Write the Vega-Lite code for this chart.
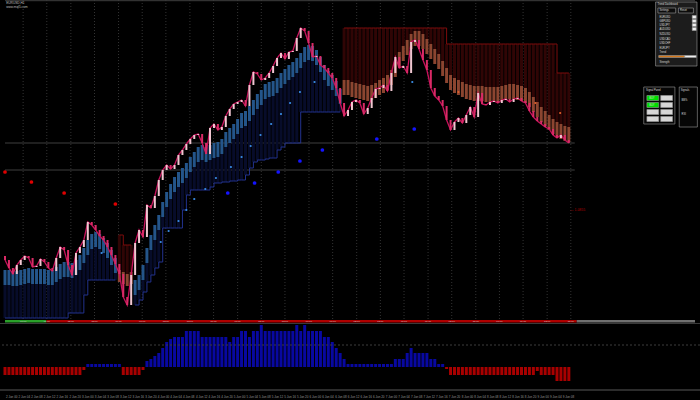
{
"$schema":"https://vega.github.io/schema/vega-lite/v6.json",
"background":"#000000",
"padding":0,
"spacing":0,
"config":{"view":{"stroke":null},"font":"Liberation Sans","concat":{"spacing":0}},
"datasets":{
"bars":[
{"i":0,"o":64,"c":60,"s":2,"a":50,"b":35,"p":"u","g":1,"h":-8},
{"i":1,"o":60,"c":52,"s":2,"a":50,"b":35,"p":"u","g":1,"h":-8},
{"i":2,"o":52,"c":46,"s":2,"a":49,"b":34,"p":"u","g":1,"h":-8},
{"i":3,"o":46,"c":55,"s":2,"a":49,"b":34,"p":"u","g":1,"h":-8},
{"i":4,"o":55,"c":60,"s":2,"a":50,"b":35,"p":"u","g":1,"h":-8},
{"i":5,"o":60,"c":64,"s":2,"a":51,"b":36,"p":"u","g":1,"h":-8},
{"i":6,"o":64,"c":62,"s":2,"a":52,"b":37,"p":"u","g":1,"h":-8},
{"i":7,"o":62,"c":53,"s":2,"a":51,"b":36,"p":"u","g":1,"h":-8},
{"i":8,"o":53,"c":54,"s":2,"a":51,"b":36,"p":"u","g":1,"h":-8},
{"i":9,"o":54,"c":61,"s":2,"a":51,"b":36,"p":"u","g":1,"h":-8},
{"i":10,"o":61,"c":58,"s":2,"a":51,"b":36,"p":"u","g":1,"h":-8},
{"i":11,"o":58,"c":52,"s":2,"a":50,"b":35,"p":"u","g":1,"h":-8},
{"i":12,"o":52,"c":49,"s":2,"a":50,"b":35,"p":"u","g":1,"h":-8},
{"i":13,"o":49,"c":62,"s":2,"a":53,"b":38,"p":"u","g":1,"h":-8},
{"i":14,"o":62,"c":73,"s":2,"a":56,"b":41,"p":"u","g":1,"h":-8},
{"i":15,"o":73,"c":70,"s":2,"a":58,"b":43,"p":"u","g":1,"h":-8},
{"i":16,"o":70,"c":55,"s":7,"a":58,"b":43,"p":"u","g":1,"h":-8},
{"i":17,"o":55,"c":45,"s":7,"a":57,"b":42,"p":"u","g":1,"h":-8},
{"i":18,"o":45,"c":67,"s":7,"a":60,"b":45,"p":"u","g":1,"h":-8},
{"i":19,"o":67,"c":73,"s":7,"a":65,"b":50,"p":"u","g":1,"h":-8},
{"i":20,"o":73,"c":80,"s":25,"a":72,"b":57,"p":"u","g":1,"h":-3},
{"i":21,"o":80,"c":98,"s":40,"a":80,"b":65,"p":"u","g":1,"h":3},
{"i":22,"o":98,"c":95,"s":40,"a":86,"b":71,"p":"u","g":1,"h":3},
{"i":23,"o":95,"c":90,"s":40,"a":88,"b":73,"p":"u","g":1,"h":3},
{"i":24,"o":90,"c":84,"s":40,"a":86,"b":71,"p":"u","g":1,"h":3},
{"i":25,"o":84,"c":80,"s":40,"a":82,"b":67,"p":"u","g":1,"h":3},
{"i":26,"o":80,"c":73,"s":40,"a":77,"b":62,"p":"u","g":1,"h":3},
{"i":27,"o":73,"c":65,"s":40,"a":70,"b":55,"p":"u","g":1,"h":3},
{"i":28,"o":65,"c":56,"s":40,"a":62,"b":47,"p":"u","g":1,"h":3},
{"i":29,"o":56,"c":46,"s":85,"a":38,"b":50,"p":"d","g":2,"h":3},
{"i":30,"o":46,"c":23,"s":75,"a":36,"b":48,"p":"d","g":2,"h":-8},
{"i":31,"o":23,"c":15,"s":75,"a":34,"b":46,"p":"d","g":2,"h":-8},
{"i":32,"o":15,"c":45,"s":75,"a":36,"b":48,"p":"d","g":2,"h":-8},
{"i":33,"o":45,"c":77,"s":15,"a":40,"b":25,"p":"u","g":3,"h":-8},
{"i":34,"o":77,"c":90,"s":20,"a":45,"b":30,"p":"u","g":3,"h":-8},
{"i":35,"o":90,"c":83,"s":28,"a":55,"b":40,"p":"u","g":3,"h":-3},
{"i":36,"o":83,"c":115,"s":38,"a":72,"b":57,"p":"u","g":3,"h":6},
{"i":37,"o":115,"c":112,"s":45,"a":85,"b":70,"p":"u","g":3,"h":8},
{"i":38,"o":112,"c":124,"s":52,"a":95,"b":80,"p":"u","g":3,"h":11},
{"i":39,"o":124,"c":140,"s":58,"a":105,"b":90,"p":"u","g":3,"h":14},
{"i":40,"o":140,"c":150,"s":92,"a":118,"b":103,"p":"u","g":3,"h":19},
{"i":41,"o":150,"c":155,"s":92,"a":128,"b":113,"p":"u","g":3,"h":25},
{"i":42,"o":155,"c":151,"s":92,"a":136,"b":121,"p":"u","g":3,"h":28},
{"i":43,"o":151,"c":155,"s":92,"a":143,"b":128,"p":"u","g":3,"h":30},
{"i":44,"o":155,"c":165,"s":92,"a":148,"b":133,"p":"u","g":3,"h":30},
{"i":45,"o":165,"c":170,"s":110,"a":152,"b":137,"p":"u","g":3,"h":30},
{"i":46,"o":170,"c":176,"s":125,"a":157,"b":142,"p":"u","g":3,"h":36},
{"i":47,"o":176,"c":181,"s":130,"a":163,"b":148,"p":"u","g":3,"h":36},
{"i":48,"o":181,"c":185,"s":130,"a":168,"b":153,"p":"u","g":3,"h":36},
{"i":49,"o":185,"c":186,"s":130,"a":173,"b":158,"p":"u","g":3,"h":36},
{"i":50,"o":186,"c":177,"s":130,"a":175,"b":160,"p":"u","g":3,"h":30},
{"i":51,"o":177,"c":166,"s":130,"a":173,"b":158,"p":"u","g":3,"h":30},
{"i":52,"o":166,"c":192,"s":133,"a":175,"b":160,"p":"u","g":3,"h":30},
{"i":53,"o":192,"c":196,"s":137,"a":177,"b":162,"p":"u","g":3,"h":30},
{"i":54,"o":196,"c":190,"s":137,"a":178,"b":163,"p":"u","g":3,"h":30},
{"i":55,"o":190,"c":193,"s":138,"a":181,"b":166,"p":"u","g":3,"h":30},
{"i":56,"o":193,"c":204,"s":138,"a":188,"b":173,"p":"u","g":3,"h":30},
{"i":57,"o":204,"c":211,"s":139,"a":192,"b":177,"p":"u","g":3,"h":25},
{"i":58,"o":211,"c":216,"s":139,"a":196,"b":181,"p":"u","g":3,"h":30},
{"i":59,"o":216,"c":218,"s":140,"a":201,"b":186,"p":"u","g":3,"h":30},
{"i":60,"o":218,"c":220,"s":140,"a":207,"b":192,"p":"u","g":3,"h":36},
{"i":61,"o":220,"c":214,"s":145,"a":209,"b":194,"p":"u","g":3,"h":36},
{"i":62,"o":214,"c":235,"s":152,"a":214,"b":199,"p":"u","g":3,"h":30},
{"i":63,"o":235,"c":248,"s":158,"a":220,"b":205,"p":"u","g":3,"h":36},
{"i":64,"o":248,"c":246,"s":160,"a":226,"b":211,"p":"u","g":3,"h":36},
{"i":65,"o":246,"c":240,"s":160,"a":230,"b":215,"p":"u","g":3,"h":42},
{"i":66,"o":240,"c":242,"s":161,"a":236,"b":221,"p":"u","g":3,"h":36},
{"i":67,"o":242,"c":247,"s":162,"a":238,"b":223,"p":"u","g":3,"h":36},
{"i":68,"o":247,"c":254,"s":162,"a":239,"b":224,"p":"u","g":3,"h":36},
{"i":69,"o":254,"c":262,"s":170,"a":242,"b":227,"p":"u","g":3,"h":36},
{"i":70,"o":262,"c":267,"s":173,"a":247,"b":232,"p":"u","g":3,"h":36},
{"i":71,"o":267,"c":261,"s":177,"a":251,"b":236,"p":"u","g":3,"h":36},
{"i":72,"o":261,"c":268,"s":177,"a":255,"b":240,"p":"u","g":3,"h":36},
{"i":73,"o":268,"c":269,"s":177,"a":258,"b":243,"p":"u","g":3,"h":36},
{"i":74,"o":269,"c":282,"s":177,"a":262,"b":247,"p":"u","g":3,"h":42},
{"i":75,"o":282,"c":292,"s":208,"a":267,"b":252,"p":"u","g":3,"h":36},
{"i":76,"o":292,"c":289,"s":208,"a":273,"b":258,"p":"u","g":3,"h":42},
{"i":77,"o":289,"c":277,"s":208,"a":275,"b":260,"p":"u","g":3,"h":36},
{"i":78,"o":277,"c":263,"s":208,"a":274,"b":259,"p":"u","g":3,"h":36},
{"i":79,"o":263,"c":264,"s":208,"a":270,"b":255,"p":"u","g":3,"h":36},
{"i":80,"o":264,"c":255,"s":208,"a":263,"b":248,"p":"u","g":3,"h":36},
{"i":81,"o":255,"c":252,"s":208,"a":255,"b":240,"p":"u","g":3,"h":30},
{"i":82,"o":252,"c":247,"s":208,"a":249,"b":234,"p":"u","g":3,"h":30},
{"i":83,"o":247,"c":242,"s":208,"a":245,"b":230,"p":"u","g":3,"h":25},
{"i":84,"o":242,"c":232,"s":208,"a":239,"b":224,"p":"u","g":3,"h":19},
{"i":85,"o":232,"c":217,"s":208,"a":231,"b":216,"p":"u","g":3,"h":14},
{"i":86,"o":217,"c":204,"s":292,"a":225,"b":240,"p":"d","g":4,"h":8},
{"i":87,"o":204,"c":210,"s":292,"a":225,"b":240,"p":"d","g":4,"h":3},
{"i":88,"o":210,"c":218,"s":292,"a":223,"b":238,"p":"d","g":4,"h":3},
{"i":89,"o":218,"c":220,"s":292,"a":222,"b":237,"p":"d","g":4,"h":3},
{"i":90,"o":220,"c":217,"s":292,"a":221,"b":236,"p":"d","g":4,"h":3},
{"i":91,"o":217,"c":206,"s":292,"a":220,"b":235,"p":"d","g":4,"h":3},
{"i":92,"o":206,"c":212,"s":292,"a":219,"b":234,"p":"d","g":4,"h":3},
{"i":93,"o":212,"c":222,"s":292,"a":220,"b":235,"p":"d","g":4,"h":3},
{"i":94,"o":222,"c":231,"s":292,"a":222,"b":237,"p":"d","g":4,"h":3},
{"i":95,"o":231,"c":232,"s":292,"a":225,"b":240,"p":"d","g":4,"h":3},
{"i":96,"o":232,"c":235,"s":292,"a":227,"b":242,"p":"d","g":4,"h":3},
{"i":97,"o":235,"c":229,"s":292,"a":230,"b":245,"p":"d","g":4,"h":3},
{"i":98,"o":229,"c":247,"s":292,"a":235,"b":250,"p":"d","g":4,"h":3},
{"i":99,"o":247,"c":263,"s":292,"a":243,"b":258,"p":"d","g":4,"h":8},
{"i":100,"o":263,"c":252,"s":292,"a":253,"b":268,"p":"d","g":4,"h":8},
{"i":101,"o":252,"c":254,"s":292,"a":259,"b":274,"p":"d","g":4,"h":8},
{"i":102,"o":254,"c":247,"s":292,"a":265,"b":280,"p":"d","g":4,"h":14},
{"i":103,"o":247,"c":278,"s":292,"a":271,"b":286,"p":"d","g":4,"h":19},
{"i":104,"o":278,"c":280,"s":292,"a":274,"b":289,"p":"d","g":4,"h":14},
{"i":105,"o":280,"c":271,"s":292,"a":274,"b":289,"p":"d","g":4,"h":14},
{"i":106,"o":271,"c":260,"s":292,"a":271,"b":286,"p":"d","g":4,"h":14},
{"i":107,"o":260,"c":250,"s":292,"a":266,"b":281,"p":"d","g":4,"h":14},
{"i":108,"o":250,"c":232,"s":292,"a":261,"b":276,"p":"d","g":4,"h":8},
{"i":109,"o":232,"c":224,"s":292,"a":256,"b":271,"p":"d","g":4,"h":8},
{"i":110,"o":224,"c":220,"s":292,"a":251,"b":266,"p":"d","g":4,"h":3},
{"i":111,"o":220,"c":214,"s":292,"a":244,"b":259,"p":"d","g":4,"h":3},
{"i":112,"o":214,"c":200,"s":276,"a":237,"b":252,"p":"d","g":4,"h":-2},
{"i":113,"o":200,"c":190,"s":276,"a":230,"b":245,"p":"d","g":4,"h":-8},
{"i":114,"o":190,"c":198,"s":276,"a":227,"b":242,"p":"d","g":4,"h":-8},
{"i":115,"o":198,"c":202,"s":276,"a":225,"b":240,"p":"d","g":4,"h":-8},
{"i":116,"o":202,"c":197,"s":276,"a":223,"b":238,"p":"d","g":4,"h":-8},
{"i":117,"o":197,"c":205,"s":276,"a":221,"b":236,"p":"d","g":4,"h":-8},
{"i":118,"o":205,"c":213,"s":276,"a":220,"b":235,"p":"d","g":4,"h":-8},
{"i":119,"o":213,"c":203,"s":276,"a":219,"b":234,"p":"d","g":4,"h":-8},
{"i":120,"o":203,"c":227,"s":276,"a":219,"b":234,"p":"d","g":4,"h":-8},
{"i":121,"o":227,"c":216,"s":276,"a":219,"b":234,"p":"d","g":4,"h":-8},
{"i":122,"o":216,"c":215,"s":276,"a":218,"b":233,"p":"d","g":4,"h":-8},
{"i":123,"o":215,"c":218,"s":276,"a":218,"b":233,"p":"d","g":4,"h":-8},
{"i":124,"o":218,"c":219,"s":276,"a":218,"b":233,"p":"d","g":4,"h":-8},
{"i":125,"o":219,"c":217,"s":276,"a":218,"b":233,"p":"d","g":4,"h":-8},
{"i":126,"o":217,"c":220,"s":276,"a":219,"b":234,"p":"d","g":4,"h":-8},
{"i":127,"o":220,"c":221,"s":276,"a":220,"b":235,"p":"d","g":4,"h":-8},
{"i":128,"o":221,"c":218,"s":276,"a":221,"b":236,"p":"d","g":4,"h":-8},
{"i":129,"o":218,"c":221,"s":276,"a":221,"b":236,"p":"d","g":4,"h":-8},
{"i":130,"o":221,"c":222,"s":276,"a":220,"b":235,"p":"d","g":4,"h":-8},
{"i":131,"o":222,"c":219,"s":276,"a":219,"b":234,"p":"d","g":4,"h":-8},
{"i":132,"o":219,"c":217,"s":276,"a":217,"b":232,"p":"d","g":4,"h":-8},
{"i":133,"o":217,"c":209,"s":276,"a":213,"b":228,"p":"d","g":4,"h":-8},
{"i":134,"o":209,"c":203,"s":276,"a":208,"b":223,"p":"d","g":4,"h":-8},
{"i":135,"o":203,"c":199,"s":276,"a":203,"b":218,"p":"d","g":4,"h":-4},
{"i":136,"o":199,"c":196,"s":276,"a":198,"b":213,"p":"d","g":4,"h":-8},
{"i":137,"o":196,"c":193,"s":276,"a":194,"b":209,"p":"d","g":4,"h":-8},
{"i":138,"o":193,"c":191,"s":276,"a":190,"b":205,"p":"d","g":4,"h":-8},
{"i":139,"o":191,"c":185,"s":276,"a":186,"b":201,"p":"d","g":4,"h":-8},
{"i":140,"o":185,"c":182,"s":247,"a":183,"b":198,"p":"d","g":4,"h":-14},
{"i":141,"o":182,"c":185,"s":247,"a":181,"b":196,"p":"d","g":4,"h":-14},
{"i":142,"o":185,"c":180,"s":247,"a":179,"b":194,"p":"d","g":4,"h":-14},
{"i":143,"o":180,"c":177,"s":247,"a":178,"b":193,"p":"d","g":4,"h":-14}
],
"grid":[
{"i":4.6,"t":"00:00"},{"i":10.6,"t":"06:00"},{"i":16.7,"t":"12:00"},{"i":22.7,"t":"18:00"},{"i":28.8,"t":"00:00"},{"i":34.8,"t":"06:00"},{"i":40.8,"t":"12:00"},{"i":46.9,"t":"18:00"},{"i":52.9,"t":"00:00"},{"i":59,"t":"06:00"},{"i":65,"t":"12:00"},{"i":71,"t":"18:00"},{"i":77.1,"t":"00:00"},{"i":83.1,"t":"06:00"},{"i":89.2,"t":"12:00"},{"i":95.2,"t":"18:00"},{"i":101.2,"t":"00:00"},{"i":107.3,"t":"06:00"},{"i":113.3,"t":"12:00"},{"i":119.4,"t":"18:00"},{"i":125.4,"t":"00:00"},{"i":131.4,"t":"06:00"},{"i":137.5,"t":"12:00"},{"i":143.5,"t":"18:00"}
],
"dots":[
{"i":0,"v":148,"k":"r"},{"i":6.7,"v":138,"k":"r"},{"i":15,"v":127,"k":"r"},{"i":28,"v":116,"k":"r"},
{"i":56.5,"v":127,"k":"b"},{"i":63.3,"v":137,"k":"b"},{"i":69.3,"v":148,"k":"b"},{"i":74.8,"v":159,"k":"b"},{"i":80.5,"v":170,"k":"b"},{"i":94.3,"v":181,"k":"b"},{"i":103.8,"v":191,"k":"b"},
{"i":24.5,"v":67,"k":"s"},{"i":39.5,"v":78,"k":"s"},{"i":41.5,"v":89,"k":"s"},{"i":44,"v":99,"k":"s"},{"i":46,"v":110,"k":"s"},{"i":48,"v":121,"k":"s"},{"i":50.8,"v":131,"k":"s"},{"i":53.5,"v":142,"k":"s"},{"i":57.3,"v":153,"k":"s"},{"i":60,"v":163,"k":"s"},{"i":62.3,"v":174,"k":"s"},{"i":64.8,"v":185,"k":"s"},{"i":67.5,"v":196,"k":"s"},{"i":70,"v":206,"k":"s"},{"i":72.3,"v":217,"k":"s"},{"i":74.8,"v":228,"k":"s"},{"i":78.5,"v":238,"k":"s"},{"i":103.3,"v":238,"k":"s"},
{"i":115,"v":228,"k":"o"},{"i":134.5,"v":217,"k":"o"},{"i":140.8,"v":207,"k":"o"}
],
"lv":[{"v":177,"x0":0,"x1":144.5},{"v":150,"x0":0,"x1":144.5},{"v":319.3,"x0":0,"x1":175}],
"boxes":[
{"x0":165,"x1":175.5,"y0":254,"y1":318,"k":"panel"},
{"x0":165.6,"x1":170.1,"y0":307,"y1":312,"k":"btn"},
{"x0":170.8,"x1":174.6,"y0":307,"y1":312,"k":"btn"},
{"x0":174.3,"x1":175.3,"y0":301.5,"y1":304.5,"k":"white"},
{"x0":174.3,"x1":175.3,"y0":297.5,"y1":300.5,"k":"white"},
{"x0":174.3,"x1":175.3,"y0":293.5,"y1":296.5,"k":"white"},
{"x0":174.3,"x1":175.3,"y0":289.5,"y1":292.5,"k":"white"},
{"x0":165.8,"x1":172.4,"y0":262.5,"y1":264.5,"k":"orange"},
{"x0":172.4,"x1":175.3,"y0":262.5,"y1":264.5,"k":"white"},
{"x0":162,"x1":169.9,"y0":196,"y1":233,"k":"dark"},
{"x0":162.8,"x1":165.8,"y0":219.5,"y1":224.5,"k":"green"},
{"x0":166.3,"x1":169.3,"y0":219.5,"y1":224.5,"k":"gray"},
{"x0":162.8,"x1":165.8,"y0":212.5,"y1":217.5,"k":"green"},
{"x0":166.3,"x1":169.3,"y0":212.5,"y1":217.5,"k":"gray"},
{"x0":162.8,"x1":165.8,"y0":205.5,"y1":210.5,"k":"gray"},
{"x0":166.3,"x1":169.3,"y0":205.5,"y1":210.5,"k":"gray"},
{"x0":162.8,"x1":165.8,"y0":198.5,"y1":203.5,"k":"gray"},
{"x0":166.3,"x1":169.3,"y0":198.5,"y1":203.5,"k":"gray"},
{"x0":171,"x1":175.6,"y0":193,"y1":233,"k":"dark"}
],
"ptx":[
{"i":165.5,"v":315.8,"t":"Trend Dashboard"},
{"i":166,"v":309.5,"t":"Settings"},
{"i":171.2,"v":309.5,"t":"Reset"},
{"i":166,"v":303,"t":"EURUSD"},
{"i":166,"v":299,"t":"GBPUSD"},
{"i":166,"v":295,"t":"USDJPY"},
{"i":166,"v":291,"t":"AUDUSD"},
{"i":166,"v":286,"t":"NZDUSD"},
{"i":166,"v":281,"t":"USDCAD"},
{"i":166,"v":277,"t":"USDCHF"},
{"i":166,"v":272,"t":"EURJPY"},
{"i":166,"v":268,"t":"Trend"},
{"i":166,"v":258,"t":"Strength"},
{"i":162.6,"v":230,"t":"Signal Panel"},
{"i":163.4,"v":222,"t":"BUY"},
{"i":166.9,"v":222,"t":"SELL"},
{"i":163.4,"v":215,"t":"BUY"},
{"i":166.9,"v":215,"t":"SELL"},
{"i":163.4,"v":208,"t":"M15"},
{"i":166.9,"v":208,"t":"H1"},
{"i":163.4,"v":201,"t":"H4"},
{"i":166.9,"v":201,"t":"D1"},
{"i":171.4,"v":230,"t":"Signals"},
{"i":171.6,"v":220,"t":"BB%"},
{"i":171.6,"v":206,"t":"RSI"}
],
"notes":[{"i":0.3,"v":317,"t":"EURUSD,H1"},{"i":0.3,"v":313.3,"t":"www.mql5.com"}],
"plabel":[{"i":143.3,"v":110,"t":"— 1.0855"}],
"sep":[{"x0":0,"x1":10.5,"v":46,"k":"g"},{"x0":10.5,"x1":145,"v":46,"k":"r"},{"x0":145,"x1":175,"v":46,"k":"n"}],
"dates":[
{"i":1.7,"t":"2 Jun 00"},{"i":4.9,"t":"2 Jun 04"},{"i":8.1,"t":"2 Jun 08"},{"i":11.3,"t":"2 Jun 12"},{"i":14.5,"t":"2 Jun 16"},{"i":17.8,"t":"2 Jun 20"},
{"i":21,"t":"3 Jun 00"},{"i":24.2,"t":"3 Jun 04"},{"i":27.4,"t":"3 Jun 08"},{"i":30.6,"t":"3 Jun 12"},{"i":33.8,"t":"3 Jun 16"},{"i":37,"t":"3 Jun 20"},
{"i":40.2,"t":"4 Jun 00"},{"i":43.4,"t":"4 Jun 04"},{"i":46.6,"t":"4 Jun 08"},{"i":49.9,"t":"4 Jun 12"},{"i":53.1,"t":"4 Jun 16"},{"i":56.3,"t":"4 Jun 20"},
{"i":59.5,"t":"5 Jun 00"},{"i":62.7,"t":"5 Jun 04"},{"i":65.9,"t":"5 Jun 08"},{"i":69.1,"t":"5 Jun 12"},{"i":72.3,"t":"5 Jun 16"},{"i":75.5,"t":"5 Jun 20"},
{"i":78.7,"t":"6 Jun 00"},{"i":81.9,"t":"6 Jun 04"},{"i":85.2,"t":"6 Jun 08"},{"i":88.4,"t":"6 Jun 12"},{"i":91.6,"t":"6 Jun 16"},{"i":94.8,"t":"6 Jun 20"},
{"i":98,"t":"7 Jun 00"},{"i":101.2,"t":"7 Jun 04"},{"i":104.4,"t":"7 Jun 08"},{"i":107.6,"t":"7 Jun 12"},{"i":110.8,"t":"7 Jun 16"},{"i":114,"t":"7 Jun 20"},
{"i":117.3,"t":"8 Jun 00"},{"i":120.5,"t":"8 Jun 04"},{"i":123.7,"t":"8 Jun 08"},{"i":126.9,"t":"8 Jun 12"},{"i":130.1,"t":"8 Jun 16"},{"i":133.3,"t":"8 Jun 20"},
{"i":136.5,"t":"9 Jun 00"},{"i":139.7,"t":"9 Jun 04"},{"i":142.9,"t":"9 Jun 08"}
]
},
"vconcat":[
{
"width":700,"height":320,
"encoding":{"x":{"field":"i","type":"quantitative","scale":{"domain":[0,175],"nice":false,"zero":false},"axis":null}},
"layer":[
{"data":{"name":"grid"},"mark":{"type":"rule","color":"#333333","strokeDash":[1,2],"strokeWidth":1,"clip":true},"encoding":{}},
{"data":{"name":"lv"},"mark":{"type":"rule","color":"#3e3e3e","strokeWidth":1,"clip":true},
 "encoding":{"x":{"field":"x0","type":"quantitative","scale":{"domain":[0,175],"nice":false,"zero":false},"axis":null},"x2":{"field":"x1"},"y":{"field":"v","type":"quantitative","scale":{"domain":[0,320],"nice":false,"zero":false},"axis":null}}},
{"data":{"name":"bars"},"mark":{"type":"bar","orient":"vertical","width":3,"clip":true},
 "encoding":{"y":{"field":"s","type":"quantitative","scale":{"domain":[0,320],"nice":false,"zero":false},"axis":null},"y2":{"field":"b"},
 "color":{"condition":{"test":"datum.p=='u'","value":"#070c2a"},"value":"#300505"}}},
{"data":{"name":"bars"},"mark":{"type":"bar","orient":"vertical","width":3,"clip":true},
 "encoding":{"y":{"field":"a","type":"quantitative","scale":{"domain":[0,320],"nice":false,"zero":false},"axis":null},"y2":{"field":"b"},
 "color":{"condition":{"test":"datum.p=='u'","value":"#24558a"},"value":"#8c4530"}}},
{"data":{"name":"bars"},"mark":{"type":"line","interpolate":"step-after","strokeWidth":1,"clip":true},
 "encoding":{"y":{"field":"s","type":"quantitative","scale":{"domain":[0,320],"nice":false,"zero":false},"axis":null},"detail":{"field":"g","type":"nominal"},
 "color":{"field":"p","type":"nominal","scale":{"domain":["u","d"],"range":["#22328f","#7e0c0c"]},"legend":null}}},
{"data":{"name":"bars"},"mark":{"type":"line","color":"#c8125c","strokeWidth":1.3,"clip":true},
 "encoding":{"y":{"field":"c","type":"quantitative","scale":{"domain":[0,320],"nice":false,"zero":false},"axis":null}}},
{"data":{"name":"bars"},"mark":{"type":"bar","orient":"vertical","width":2,"clip":true},
 "encoding":{"y":{"field":"o","type":"quantitative","scale":{"domain":[0,320],"nice":false,"zero":false},"axis":null},"y2":{"field":"c"},
 "color":{"condition":{"test":"datum.c>=datum.o","value":"#f0c6d0"},"value":"#d92a66"}}},
{"data":{"name":"dots"},"mark":{"type":"circle","opacity":1,"clip":true},
 "encoding":{"y":{"field":"v","type":"quantitative","scale":{"domain":[0,320],"nice":false,"zero":false},"axis":null},
 "color":{"condition":[{"test":"datum.k=='r'","value":"#e00000"},{"test":"datum.k=='b'","value":"#1414ff"},{"test":"datum.k=='o'","value":"#e0602a"}],"value":"#3a8ee6"},
 "size":{"condition":{"test":"datum.k=='r'||datum.k=='b'","value":14},"value":5}}},
{"data":{"name":"boxes"},"mark":{"type":"rect","stroke":"#9a9a9a","strokeWidth":0.6,"clip":true},
 "encoding":{"x":{"field":"x0","type":"quantitative","scale":{"domain":[0,175],"nice":false,"zero":false},"axis":null},"x2":{"field":"x1"},
 "y":{"field":"y0","type":"quantitative","scale":{"domain":[0,320],"nice":false,"zero":false},"axis":null},"y2":{"field":"y1"},
 "color":{"condition":[{"test":"datum.k=='panel'","value":"#1c1c1c"},{"test":"datum.k=='btn'","value":"#0c0c0c"},{"test":"datum.k=='white'","value":"#eeeeee"},{"test":"datum.k=='orange'","value":"#d4781c"},{"test":"datum.k=='green'","value":"#00dd00"},{"test":"datum.k=='gray'","value":"#d6d6d6"}],"value":"#060606"}}},
{"data":{"name":"ptx"},"mark":{"type":"text","align":"left","baseline":"middle","fontSize":2.6,"color":"#dddddd","clip":true},
 "encoding":{"y":{"field":"v","type":"quantitative","scale":{"domain":[0,320],"nice":false,"zero":false},"axis":null},"text":{"field":"t"}}},
{"data":{"name":"notes"},"mark":{"type":"text","align":"left","baseline":"middle","fontSize":3.2,"color":"#bbbbbb","clip":true},
 "encoding":{"y":{"field":"v","type":"quantitative","scale":{"domain":[0,320],"nice":false,"zero":false},"axis":null},"text":{"field":"t"}}},
{"data":{"name":"plabel"},"mark":{"type":"text","align":"left","baseline":"middle","fontSize":3.5,"color":"#b00000","clip":true},
 "encoding":{"y":{"field":"v","type":"quantitative","scale":{"domain":[0,320],"nice":false,"zero":false},"axis":null},"text":{"field":"t"}}}
]
},
{
"width":700,"height":80,
"encoding":{"x":{"field":"i","type":"quantitative","scale":{"domain":[0,175],"nice":false,"zero":false},"axis":null}},
"layer":[
{"data":{"name":"bars"},"mark":{"type":"bar","orient":"vertical","width":3,"clip":true},
 "encoding":{"y":{"field":"h","type":"quantitative","scale":{"domain":[-33,47],"nice":false,"zero":false},"axis":null},"y2":{"datum":0},
 "color":{"condition":{"test":"datum.h>=0","value":"#0808a0"},"value":"#a80000"}}},
{"data":{"values":[{"v":22}]},"mark":{"type":"rule","color":"#3c3c3c","strokeDash":[2,2],"clip":true},
 "encoding":{"x":null,"y":{"field":"v","type":"quantitative","scale":{"domain":[-33,47],"nice":false,"zero":false},"axis":null}}},
{"data":{"values":[{"v":-23}]},"mark":{"type":"rule","color":"#2c2c2c","strokeWidth":2,"clip":true},
 "encoding":{"x":null,"y":{"field":"v","type":"quantitative","scale":{"domain":[-33,47],"nice":false,"zero":false},"axis":null}}},
{"data":{"values":[{"v":43.5}]},"mark":{"type":"rule","color":"#3a3a3a","strokeWidth":1,"clip":true},
 "encoding":{"x":null,"y":{"field":"v","type":"quantitative","scale":{"domain":[-33,47],"nice":false,"zero":false},"axis":null}}},
{"data":{"name":"sep"},"mark":{"type":"rule","strokeWidth":3,"clip":true},
 "encoding":{"x":{"field":"x0","type":"quantitative","scale":{"domain":[0,175],"nice":false,"zero":false},"axis":null},"x2":{"field":"x1"},
 "y":{"field":"v","type":"quantitative","scale":{"domain":[-33,47],"nice":false,"zero":false},"axis":null},
 "color":{"condition":[{"test":"datum.k=='g'","value":"#2aa02a"},{"test":"datum.k=='r'","value":"#b00000"}],"value":"#707070"}}},
{"data":{"name":"grid"},"mark":{"type":"text","fontSize":2.5,"color":"#cfcfcf","baseline":"middle","clip":true},
 "encoding":{"y":{"datum":46,"type":"quantitative","scale":{"domain":[-33,47],"nice":false,"zero":false},"axis":null},"text":{"field":"t"}}},
{"data":{"name":"dates"},"mark":{"type":"text","fontSize":3,"color":"#9a9a9a","baseline":"middle","clip":true},
 "encoding":{"y":{"datum":-30,"type":"quantitative","scale":{"domain":[-33,47],"nice":false,"zero":false},"axis":null},"text":{"field":"t"}}}
]
}
]
}
